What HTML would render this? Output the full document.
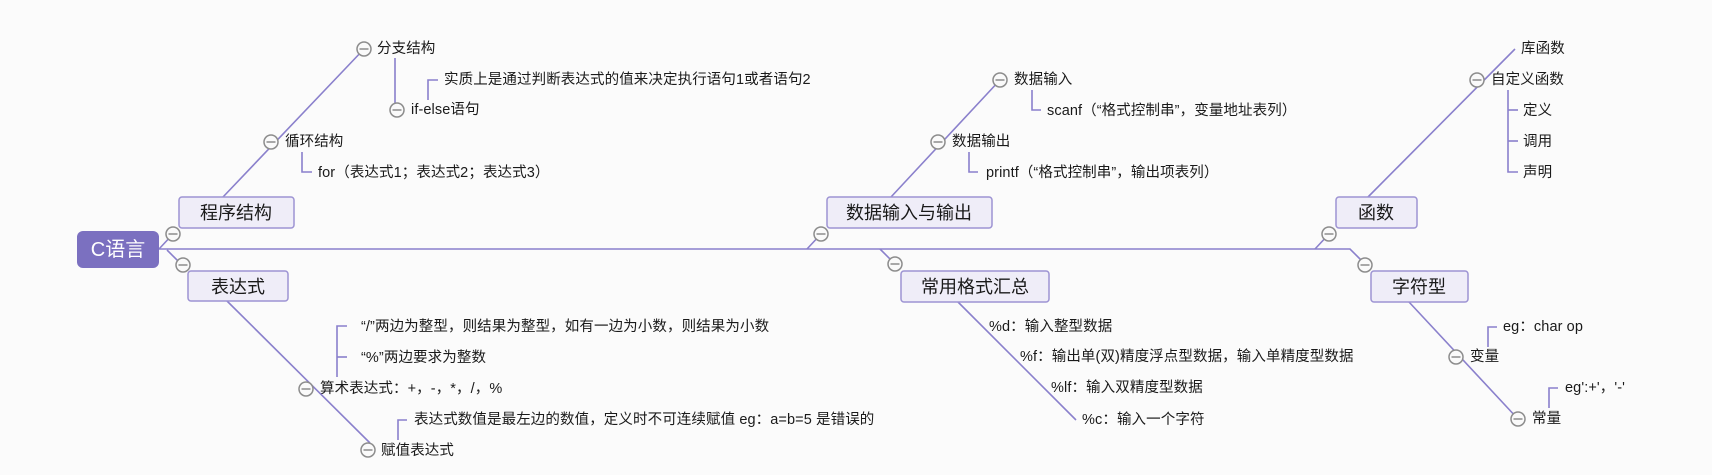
<!DOCTYPE html>
<html><head><meta charset="utf-8"><style>
html,body{margin:0;padding:0;background:#fbfbfb;}
svg{display:block;}
text{font-family:"Liberation Sans","Noto Sans CJK SC",sans-serif;fill:#1a1a1a;}
.s{font-size:14.5px;letter-spacing:0.1px;}
.b{font-size:18px;}
</style></head><body>
<svg width="1712" height="475" viewBox="0 0 1712 475" xmlns="http://www.w3.org/2000/svg">
<defs>
<g id="c"><circle r="7" fill="#fafafa" stroke="#8c8c8c" stroke-width="1.5"/><line x1="-4.5" y1="0" x2="4.5" y2="0" stroke="#8c8c8c" stroke-width="1.5"/></g>
</defs>
<g stroke="#8a80cc" stroke-width="1.6" fill="none">
<polyline points="159,249 1350,249 1364,263"/>
<line x1="159" y1="249" x2="173" y2="234"/>
<line x1="167" y1="250" x2="181" y2="264"/>
<line x1="807" y1="249" x2="821" y2="234"/>
<line x1="880" y1="249" x2="895" y2="264"/>
<line x1="1315" y1="249" x2="1329" y2="234"/>
<line x1="223" y1="197" x2="364" y2="49"/>
<line x1="395" y1="58" x2="395" y2="104"/>
<polyline points="438,80 428,80 428,100"/>
<polyline points="302,152 302,172 312,172"/>
<line x1="227" y1="301" x2="370" y2="443"/>
<polyline points="347,326 337,326 337,377"/>
<line x1="337" y1="357" x2="347" y2="357"/>
<polyline points="407,420 398,420 398,440"/>
<line x1="891" y1="197" x2="1000" y2="80"/>
<polyline points="1032,90 1032,110 1041,110"/>
<polyline points="969,152 969,172 978,172"/>
<line x1="958" y1="302" x2="1076" y2="420"/>
<line x1="1368" y1="197" x2="1515" y2="49"/>
<polyline points="1508,90 1508,172 1518,172"/>
<line x1="1508" y1="110" x2="1518" y2="110"/>
<line x1="1508" y1="141" x2="1518" y2="141"/>
<line x1="1409" y1="302" x2="1518" y2="419"/>
<polyline points="1497,327 1488,327 1488,347"/>
<polyline points="1558,388 1549,388 1549,408"/>
</g>
<rect x="77" y="231" width="82" height="37" rx="6" fill="#7b70c0"/>
<text x="118" y="256" text-anchor="middle" style="font-size:20px;fill:#fff">C语言</text>
<g fill="#efedf8" stroke="#9d93d3" stroke-width="1.5">
<rect x="179" y="197" width="115" height="31" rx="3"/>
<rect x="188" y="271" width="100" height="30" rx="3"/>
<rect x="827" y="197" width="165" height="31" rx="3"/>
<rect x="901" y="271" width="148" height="31" rx="3"/>
<rect x="1336" y="197" width="81" height="31" rx="3"/>
<rect x="1371" y="271" width="97" height="31" rx="3"/>
</g>
<g class="b" text-anchor="middle">
<text x="236" y="219">程序结构</text>
<text x="238" y="293">表达式</text>
<text x="909" y="219">数据输入与输出</text>
<text x="975" y="293">常用格式汇总</text>
<text x="1376" y="219">函数</text>
<text x="1419" y="293">字符型</text>
</g>
<use href="#c" x="173" y="234"/><use href="#c" x="183" y="265"/>
<use href="#c" x="364" y="49"/><use href="#c" x="397" y="110"/><use href="#c" x="271" y="142"/>
<use href="#c" x="306" y="389"/><use href="#c" x="368" y="450"/>
<use href="#c" x="821" y="234"/><use href="#c" x="895" y="264"/>
<use href="#c" x="1000" y="80"/><use href="#c" x="938" y="142"/>
<use href="#c" x="1329" y="234"/><use href="#c" x="1365" y="265"/>
<use href="#c" x="1477" y="80"/><use href="#c" x="1456" y="357"/><use href="#c" x="1518" y="419"/>
<g class="s" dominant-baseline="central">
<text x="377" y="49">分支结构</text>
<text x="411" y="110">if-else语句</text>
<text x="444" y="80">实质上是通过判断表达式的值来决定执行语句1或者语句2</text>
<text x="285" y="142">循环结构</text>
<text x="318" y="173">for（表达式1；表达式2；表达式3）</text>
<text x="361" y="327">“/”两边为整型，则结果为整型，如有一边为小数，则结果为小数</text>
<text x="361" y="358">“%”两边要求为整数</text>
<text x="320" y="389">算术表达式：+，-，*，/，%</text>
<text x="414" y="420">表达式数值是最左边的数值，定义时不可连续赋值  eg：a=b=5 是错误的</text>
<text x="381" y="451">赋值表达式</text>
<text x="1014" y="80">数据输入</text>
<text x="1047" y="111">scanf（“格式控制串”，变量地址表列）</text>
<text x="952" y="142">数据输出</text>
<text x="986" y="173">printf（“格式控制串”，输出项表列）</text>
<text x="989" y="327">%d：输入整型数据</text>
<text x="1020" y="357">%f：输出单(双)精度浮点型数据，输入单精度型数据</text>
<text x="1051" y="388">%lf：输入双精度型数据</text>
<text x="1082" y="420">%c：输入一个字符</text>
<text x="1521" y="49">库函数</text>
<text x="1491" y="80">自定义函数</text>
<text x="1523" y="111">定义</text>
<text x="1523" y="142">调用</text>
<text x="1523" y="173">声明</text>
<text x="1503" y="327">eg：char  op</text>
<text x="1470" y="357">变量</text>
<text x="1565" y="388">eg':+'，'-'</text>
<text x="1532" y="419">常量</text>
</g>
</svg>
</body></html>
